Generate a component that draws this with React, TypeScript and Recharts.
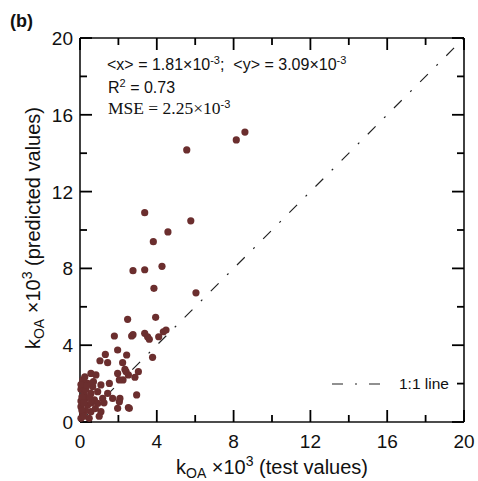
import React from "react";
import { ScatterChart, Scatter, XAxis, YAxis, ReferenceLine } from "recharts";

// k_OA x 10^3
const testValues = [
  8.59, 8.14, 5.56, 5.77, 6.04, 3.37, 4.58, 3.82, 2.76, 3.37, 4.27, 3.85, 2.48, 3.94,
  1.79, 2.69, 2.76, 3.37, 3.52, 3.61, 4.1, 4.34, 4.48, 1.96, 1.32, 2.43, 3.78, 1.04, 1.44, 2.22,
  2.34, 3.04, 2.52, 2.86, 2.24, 2.95, 2.08, 2.52, 1.96,
  0.57, 0.83, 1.96, 2.4, 0.14, 0.4, 0.66, 1.09, 1.53, 2.05, 0.05, 0.22, 0.57, 0.92, 1.44,
  0.05, 0.31, 0.75, 1.18, 1.7, 2.05, 0.05, 0.4, 0.92, 0.14, 0.57, 1.09, 2.57, 0.05, 0.48,
  0.1, 0.2, 0.3, 0.1, 0.2, 0.3, 0.15, 0.05, 0.6, 0.8, 0.35, 0.5, 1.25, 1.0, 0.25, 0.7,
];
const predictedValues = [
  15.1, 14.69, 14.17, 10.48, 6.73, 10.9, 9.9, 9.39, 7.88, 7.93, 8.11, 6.96, 5.35, 5.45,
  4.48, 4.48, 4.55, 4.62, 4.44, 4.31, 4.44, 4.7, 4.79, 3.75, 3.52, 3.49, 3.37, 3.19, 3.09, 3.09,
  2.74, 2.62, 2.45, 2.33, 2.19, 1.41, 1.23, 0.75, 0.71,
  2.53, 2.45, 2.53, 2.62, 1.93, 2.01, 1.84, 1.93, 2.01, 2.19, 1.7, 1.49, 1.49, 1.58, 1.49,
  1.09, 1.23, 1.15, 1.23, 1.23, 1.06, 0.8, 0.89, 0.97, 0.45, 0.54, 0.54, 0.71, 0.19, 0.19,
  1.3, 1.0, 0.6, 0.6, 0.3, 1.7, 2.2, 1.95, 1.0, 0.7, 1.9, 1.3, 1.0, 0.3, 2.35, 2.1,
];
const axisTicks = [0, 2, 4, 6, 8, 10, 12, 14, 16, 18, 20];

const points = testValues.map((x, i) => ({ x, y: predictedValues[i] }));

const FONT = "'Liberation Sans', Arial, sans-serif";
const DOT = "#6b2e2e";
const MAX = 20;

// tick marks on the four sides of the frame, as data on the same scales
const bottomTicks = axisTicks.map((v) => ({ x: v, y: 0, v }));
const topTicks = axisTicks.map((v) => ({ x: v, y: MAX, v }));
const leftTicks = axisTicks.map((v) => ({ x: 0, y: v, v }));
const rightTicks = axisTicks.map((v) => ({ x: MAX, y: v, v }));

const tickPx = (v: number) => (v % 4 === 0 ? 12 : 7);

const makeTick = (dx: number, dy: number) => (p: any) => {
  const len = tickPx(p.payload.v);
  return (
    <line
      x1={p.cx}
      y1={p.cy}
      x2={p.cx + dx * len}
      y2={p.cy + dy * len}
      stroke="#000"
      strokeWidth={1.8}
    />
  );
};

const bottomLabel = (p: any) => {
  const v = Number(p.payload.value);
  if (v % 4 !== 0) return <g key={`b${v}`} />;
  return (
    <text key={`b${v}`} x={p.x} y={p.y + 26} textAnchor="middle" fontSize={19} fontFamily={FONT} fill="#111">
      {v}
    </text>
  );
};

const leftLabel = (p: any) => {
  const v = Number(p.payload.value);
  if (v % 4 !== 0) return <g key={`l${v}`} />;
  return (
    <text key={`l${v}`} x={p.x - 7} y={p.y + 7} textAnchor="end" fontSize={19} fontFamily={FONT} fill="#111">
      {v}
    </text>
  );
};

const Dot = (props: any) => <circle cx={props.cx} cy={props.cy} r={3.6} fill={DOT} />;

const frame = { stroke: "#111", strokeWidth: 1.6, ifOverflow: "visible" as const };

export default function App() {
  return (
    <div style={{ position: "absolute", left: 0, top: 0, width: 478, height: 481, background: "#fff" }}>
      <ScatterChart width={478} height={481} margin={{ top: 38, right: 14, bottom: 29, left: 40 }}>
        <XAxis
          xAxisId="b"
          type="number"
          dataKey="x"
          domain={[0, MAX]}
          ticks={axisTicks}
          height={30}
          tickSize={0}
          tickMargin={0}
          tick={bottomLabel}
          axisLine={{ stroke: "#111", strokeWidth: 1.6 }}
        />
        <YAxis
          yAxisId="l"
          type="number"
          dataKey="y"
          domain={[0, MAX]}
          ticks={axisTicks}
          width={40}
          tickSize={0}
          tickMargin={0}
          tick={leftLabel}
          axisLine={{ stroke: "#111", strokeWidth: 1.6 }}
        />

        <ReferenceLine xAxisId="b" yAxisId="l" y={MAX} {...frame} />
        <ReferenceLine xAxisId="b" yAxisId="l" x={MAX} {...frame} />

        <ReferenceLine
          xAxisId="b"
          yAxisId="l"
          segment={[{ x: 0, y: 0 }, { x: MAX, y: MAX }]}
          stroke="#222"
          strokeWidth={1.2}
          strokeDasharray="11 12 2 12"
        />

        <Scatter xAxisId="b" yAxisId="l" data={bottomTicks} shape={makeTick(0, -1)} isAnimationActive={false} />
        <Scatter xAxisId="b" yAxisId="l" data={topTicks} shape={makeTick(0, 1)} isAnimationActive={false} />
        <Scatter xAxisId="b" yAxisId="l" data={leftTicks} shape={makeTick(1, 0)} isAnimationActive={false} />
        <Scatter xAxisId="b" yAxisId="l" data={rightTicks} shape={makeTick(-1, 0)} isAnimationActive={false} />

        <Scatter xAxisId="b" yAxisId="l" data={points} shape={<Dot />} isAnimationActive={false} />
      </ScatterChart>

      <svg
        width={478}
        height={481}
        style={{ position: "absolute", left: 0, top: 0, pointerEvents: "none" }}
        fontFamily={FONT}
        fill="#111"
      >
        <text x={10} y={27} fontSize={18} fontWeight="bold">(b)</text>

        <text x={107} y={70} fontSize={16} xmlSpace="preserve">
          {"<x> = 1.81×10"}
          <tspan dy={-6} fontSize={11}>-3</tspan>
          <tspan dy={6}>{";  <y> = 3.09×10"}</tspan>
          <tspan dy={-6} fontSize={11}>-3</tspan>
        </text>
        <text x={108} y={93} fontSize={16}>
          R<tspan dy={-6} fontSize={11}>2</tspan>
          <tspan dy={6}> = 0.73</tspan>
        </text>
        <text x={108} y={114} fontSize={17.5} fontFamily="'Liberation Serif', 'Times New Roman', serif">
          {"MSE = 2.25×10"}
          <tspan dy={-6} fontSize={11} fontFamily={FONT}>-3</tspan>
        </text>

        <text x={272} y={474} fontSize={20} textAnchor="middle">
          k<tspan dy={4} fontSize={14}>OA</tspan>
          <tspan dy={-4}>{" ×10"}</tspan>
          <tspan dy={-8} fontSize={14}>3</tspan>
          <tspan dy={8}> (test values)</tspan>
        </text>
        <text transform="translate(40,228) rotate(-90)" fontSize={20} textAnchor="middle">
          k<tspan dy={4} fontSize={14}>OA</tspan>
          <tspan dy={-4}>{" ×10"}</tspan>
          <tspan dy={-8} fontSize={14}>3</tspan>
          <tspan dy={8}> (predicted values)</tspan>
        </text>

        <line x1={332} x2={381} y1={384} y2={384} stroke="#222" strokeWidth={1.2} strokeDasharray="11 12 2 12" />
        <text x={399} y={389} fontSize={15.5}>1:1 line</text>
      </svg>
    </div>
  );
}
